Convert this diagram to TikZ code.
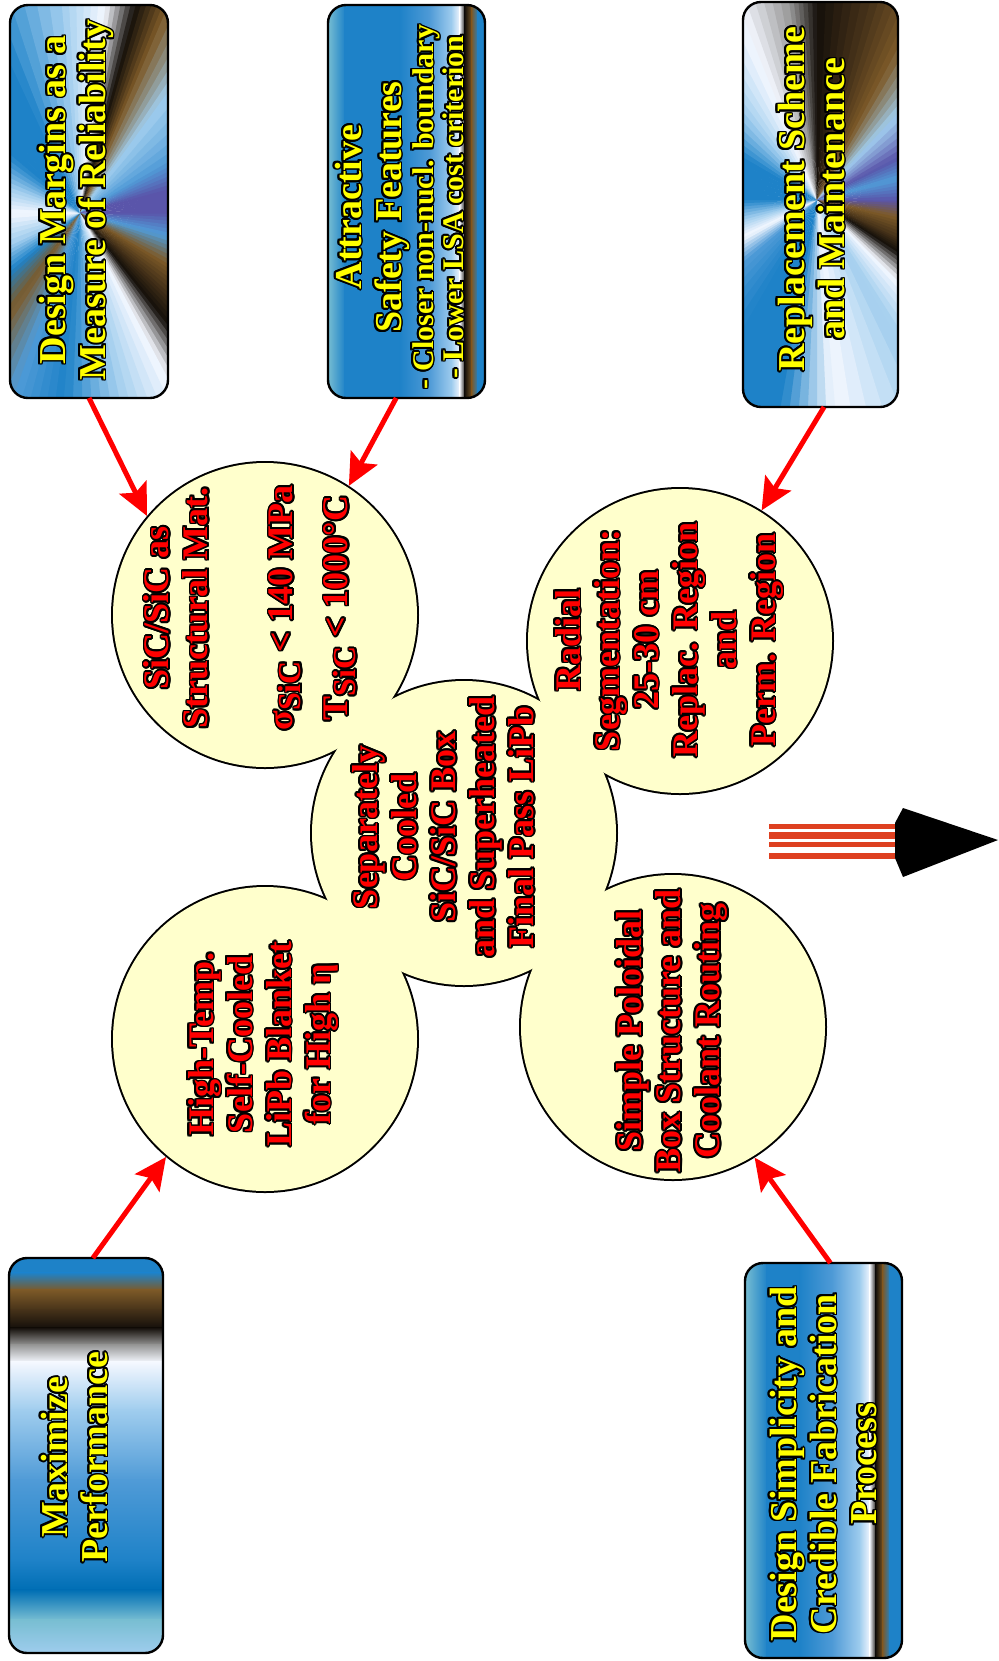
\documentclass[tikz,border=0pt]{standalone}
\usepackage{fontspec}
\setmainfont{Liberation Serif}
\usepackage{contour}
\contourlength{0.9pt}
\usetikzlibrary{arrows.meta,calc}

\definecolor{cream}{RGB}{255,255,204}
\definecolor{tred}{RGB}{255,0,0}
\definecolor{tyel}{RGB}{255,255,0}
\definecolor{lred}{RGB}{222,64,32}
\definecolor{pu}{RGB}{90,85,170}
\definecolor{bB}{RGB}{30,130,200}
\definecolor{bM}{RGB}{80,155,215}
\definecolor{bL}{RGB}{160,205,238}
\definecolor{wh}{RGB}{245,248,255}
\definecolor{gy}{RGB}{150,150,150}
\definecolor{bk}{RGB}{20,15,10}
\definecolor{br}{RGB}{125,90,40}
\definecolor{dbr}{RGB}{70,50,25}
\definecolor{tl}{RGB}{120,190,210}
\definecolor{db}{RGB}{0,110,180}

\newcommand\ol[1]{\contour{black}{#1}}
\newcommand\subx[1]{\raisebox{-4pt}{\fontsize{16}{16}\selectfont #1}}

% sunburst: #1 centre coordinate, #2 list angle/colour (angle clockwise in image)
\newcommand\sunburst[2]{%
  \foreach \aa/\cu [remember=\aa as \pa (initially 0), remember=\cu as \cp (initially pu)] in {#2}{%
    \pgfmathsetmacro\spn{\aa-\pa}%
    \ifdim\spn pt>0pt
      \foreach \k in {0,...,5}{%
        \pgfmathsetmacro\aone{\pa+\spn*\k/6}%
        \pgfmathsetmacro\atwo{\pa+\spn*(\k+1)/6+0.5}%
        \pgfmathtruncatemacro\mm{100*(\k+0.5)/6}%
        \fill[\cu!\mm!\cp, shift={(#1)}] (0,0) -- (-\aone:700) -- (-\atwo:700) -- cycle;
      }%
    \fi
  }%
}
% strips varying along x: #1 top y, #2 bottom y (pixels, positive), #3 list x/colour
\newcommand\hstrips[3]{%
  \foreach \xx/\cu [count=\ii, remember=\xx as \xp (initially 0), remember=\cu as \cp (initially white)] in {#3}{%
    \ifnum\ii>1 \shade[left color=\cp, right color=\cu] (\xp-0.4,-#1) rectangle (\xx+0.4,-#2);\fi
  }%
}
% strips varying along y: #1 left x, #2 right x, #3 list y/colour
\newcommand\vstrips[3]{%
  \foreach \yy/\cu [count=\ii, remember=\yy as \yp (initially 0), remember=\cu as \cp (initially white)] in {#3}{%
    \ifnum\ii>1 \shade[top color=\cp, bottom color=\cu] (#1,-\yp+0.4) rectangle (#2,-\yy-0.4);\fi
  }%
}

\tikzset{
  boxtext/.style={rotate=90, text=tyel, font=\fontsize{19}{20}\selectfont\bfseries, align=center, inner sep=0pt},
  circtext/.style={rotate=90, text=tred, font=\fontsize{18}{19.5}\selectfont\bfseries, align=center, inner sep=0pt},
  arr/.style={draw=tred, line width=2.5pt, -{Stealth[length=16pt,width=15pt,inset=3pt]}},
  boxnode/.style={draw=black, line width=1.2pt, rounded corners=9pt, inner sep=0pt, outer sep=0pt},
  blob/.style={circle, draw=black, fill=cream, line width=2pt, minimum size=152pt, inner sep=0pt},
  stripe/.style={draw=lred, line width=2.75pt},
}

\begin{document}
\begin{tikzpicture}[x=0.5pt,y=0.5pt]
\useasboundingbox (0,0) rectangle (998,-1661);

% ---------- circles (union outline) ----------
\node[blob] (cA) at (265,-615) {};
\node[blob] (cM) at (464,-833) {};
\node[blob] (cB) at (680,-641) {};
\node[blob] (cC) at (673,-1027) {};
\node[blob] (cD) at (265,-1039) {};
\foreach \n in {cA,cM,cB,cC,cD} \fill[cream] (\n.center) circle (76pt);

% ---------- circle texts ----------
\node[circtext] (tA) at (251,-608) {\ol{SiC/SiC as}\\ \ol{Structural Mat.}\\[23pt]
  \ol{σ\subx{SiC} < 140 MPa}\\[8pt] \ol{T\subx{SiC} < 1000°C}};
\node[circtext] (tM) at (444,-827) {\ol{Separately}\\ \ol{Cooled}\\ \ol{SiC/SiC Box}\\ \ol{and Superheated}\\ \ol{Final Pass LiPb}};
\node[circtext] (tB) at (670,-640) {\ol{Radial}\\ \ol{Segmentation:}\\ \ol{25-30 cm}\\ \ol{Replac. Region}\\ \ol{and}\\ \ol{Perm. Region}};
\node[circtext] (tC) at (673,-1031) {\ol{Simple Poloidal}\\ \ol{Box Structure and}\\ \ol{Coolant Routing}};
\node[circtext] (tD) at (264,-1044) {\ol{High-Temp.}\\ \ol{Self-Cooled}\\ \ol{LiPb Blanket}\\ \ol{for High η}};

% ---------- boxes ----------
\coordinate (s1) at (80,-213);
\coordinate (s3) at (817,-200);

\begin{scope}
  \clip[rounded corners=9pt] (10,-5) rectangle (168,-398);
  \sunburst{s1}{0/pu,15/bM,30/br,42/dbr,52/bk,62/wh,78/bL,95/bB,110/bM,125/br,140/bB,155/bL,180/wh,200/bL,220/bB,245/bB,265/bL,277/wh,285/bk,293/br,306/bL,330/bM,345/pu,360/pu}
\end{scope}
\node[boxnode, minimum width=79pt, minimum height=196.5pt] (b1) at (89,-201.5) {};

\begin{scope}
  \clip[rounded corners=9pt] (328,-5) rectangle (485,-398);
  \hstrips{5}{398}{328/tl,345/bB,400/bB,430/bM,452/bL,460/wh,465/bk,472/br,478/bB,486/bB}
\end{scope}
\node[boxnode, minimum width=78.5pt, minimum height=196.5pt] (b2) at (406.5,-201.5) {};

\begin{scope}
  \clip[rounded corners=9pt] (743,-2) rectangle (898,-407);
  \sunburst{s3}{0/pu,12/br,25/dbr,33/bk,45/wh,60/bL,85/wh,100/bB,120/bB,140/bM,153/wh,165/bL,180/bB,210/bB,230/bL,248/wh,262/gy,270/bk,285/dbr,298/br,313/bL,332/pu,345/bM,360/pu}
\end{scope}
\node[boxnode, minimum width=77.5pt, minimum height=202.5pt] (b3) at (820.5,-204.5) {};

\begin{scope}
  \clip[rounded corners=9pt] (9,-1258) rectangle (163,-1653);
  \vstrips{9}{163}{1258/bB,1273/bB,1290/br,1310/dbr,1328/bk,1345/gy,1362/wh,1410/bL,1480/bM,1560/bB,1590/db,1620/tl,1654/bL}
\end{scope}
\node[boxnode, minimum width=77pt, minimum height=197.5pt] (b4) at (86,-1455.5) {};

\begin{scope}
  \clip[rounded corners=9pt] (745,-1263) rectangle (902,-1658);
  \hstrips{1263}{1658}{745/tl,767/bB,800/bB,833/bM,860/bL,870/wh,876/bk,883/br,890/bB,903/bB}
\end{scope}
\node[boxnode, minimum width=78.5pt, minimum height=197.5pt] (b5) at (823.5,-1460.5) {};

% ---------- box texts ----------
\node[boxtext] (t1) at (77,-200) {\ol{Design Margins as a}\\ \ol{Measure of Reliability}};
\node[boxtext] (t2) at (400,-207) {\ol{Attractive}\\ \ol{Safety Features}\\[-4pt]
  {\fontsize{15}{15}\selectfont\ol{- Closer non-nucl. boundary}}\\[-5pt]
  {\fontsize{15}{15}\selectfont\ol{- Lower LSA cost criterion}}};
\node[boxtext] (t3) at (812,-199) {\ol{Replacement Scheme}\\ \ol{and Maintenance}};
\node[boxtext] (t4) at (75,-1457) {\ol{Maximize}\\ \ol{Performance}};
\node[boxtext] (t5) at (824,-1464) {\ol{Design Simplicity and}\\ \ol{Credible Fabrication}\\ \ol{Process}};

% ---------- arrows ----------
\draw[arr] (b1.south) -- (cA.140.5);
\draw[arr] (b2.267.2) -- (cA.57.4);
\draw[arr] (b3.271.8) -- (cB.58);
\draw[arr] (b4.88) -- (cD.230.1);
\draw[arr] (b5.88.7) -- (cC.302.9);

% ---------- big arrow at right ----------
\draw[stripe] (769,-826.5) -- (895,-826.5);
\draw[stripe, line width=3.5pt] (769,-835.5) -- (895,-835.5);
\draw[stripe] (769,-844.5) -- (895,-844.5);
\draw[stripe] (769,-856) -- (895,-856);
\fill[black] (895,-823) -- (903,-808) -- (998,-840) -- (903,-877) -- (895,-858) -- cycle;
\end{tikzpicture}
\end{document}
